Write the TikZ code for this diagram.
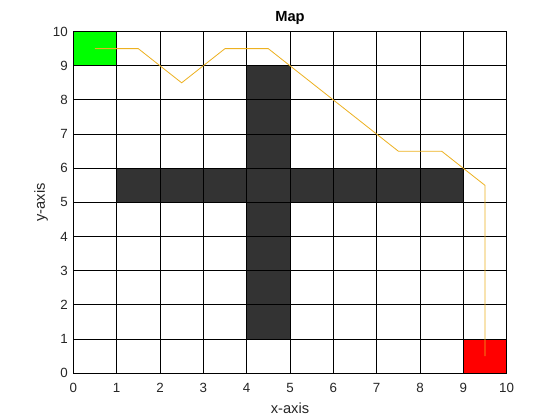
\documentclass[tikz,border=0pt]{standalone}
\usepackage{fontspec}
\setmainfont{Liberation Sans}
\definecolor{obst}{HTML}{333333}
\definecolor{pathc}{HTML}{EDB120}
\definecolor{txt}{HTML}{262626}
\tikzset{
  cellobst/.style={fill=obst},
  cellstart/.style={fill=green},
  cellgoal/.style={fill=red},
  gridline/.style={draw=black, line width=0.7pt},
  route/.style={draw=pathc, line width=0.6pt},
  ticklab/.style={inner sep=0pt, text=txt, font=\fontsize{10}{12}\selectfont},
  axlab/.style={inner sep=0pt, text=txt, font=\fontsize{11}{13}\selectfont},
}
\begin{document}
\begin{tikzpicture}[x=0.75pt,y=0.75pt]
\useasboundingbox (0,0) rectangle (560,420);
\fill[white] (0,0) rectangle (560,420);
\node[inner sep=0pt, font=\bfseries\fontsize{11}{13}\selectfont] (title) at (290,402) {Map};
\node[axlab] (xlab) at (290,12) {x-axis};
\node[axlab, rotate=90] (ylab) at (41,217.5) {y-axis};
\begin{scope}[shift={(73.3,46.7)}, x=32.5pt, y=25.63pt]
  \fill[white] (0,0) rectangle (10,10);
  \fill[cellstart] (0,9) rectangle (1,10);
  \fill[cellgoal] (9,0) rectangle (10,1);
  \fill[cellobst] (4,1) rectangle (5,9);
  \fill[cellobst] (1,5) rectangle (9,6);
  \draw[gridline] (0,0) grid[step=1] (10,10);
  \draw[gridline] (0,0) rectangle (10,10);
  \draw[route] (0.5,9.5) -- (1.5,9.5) -- (2.5,8.5) -- (3.5,9.5) -- (4.5,9.5)
     -- (5.5,8.5) -- (6.5,7.5) -- (7.5,6.5) -- (8.5,6.5) -- (9.5,5.5) -- (9.5,0.5);
  \foreach \i in {0,...,10} {
    \node[ticklab, anchor=north, yshift=-7.5pt] (xt\i) at (\i,0) {\i};
    \node[ticklab, anchor=east, xshift=-4pt] (yt\i) at (0,\i) {\i};
  }
\end{scope}
\end{tikzpicture}
\end{document}
